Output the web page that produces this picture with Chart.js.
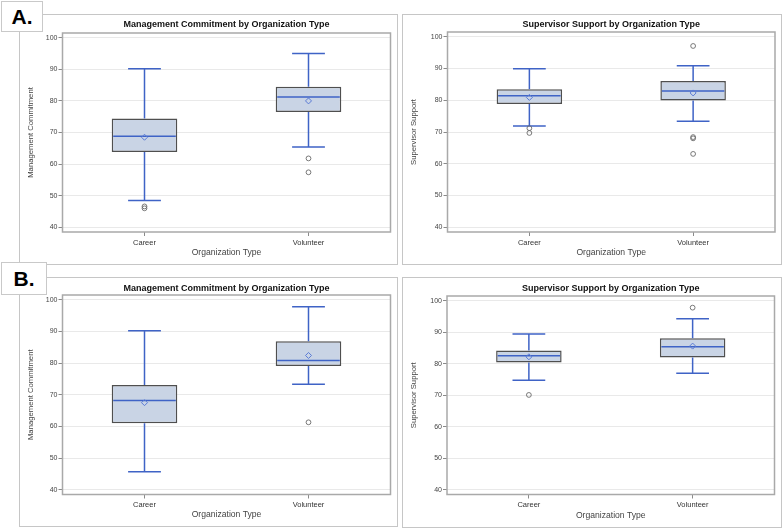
<!DOCTYPE html>
<html>
<head>
<meta charset="utf-8">
<script src="https://cdn.jsdelivr.net/npm/chart.js@4.4.1/dist/chart.umd.min.js"></script>
<style>
  html, body { margin: 0; padding: 0; background: #fff; }
  #page { position: relative; width: 783px; height: 528px; overflow: hidden; font-family: "Liberation Sans", Arial, sans-serif; }
  .frame { position: absolute; border: 1.5px solid #c6c6c6; box-sizing: border-box; background: #fff; }
  .frame canvas { position: absolute; left: 0; top: 0; }
  .tag { position: absolute; border: 1.5px solid #c9c9c9; background: #fff; box-sizing: border-box;
         font-weight: bold; font-size: 21px; color: #000; display: flex; align-items: center; justify-content: center; }
</style>
</head>
<body>
<div id="page">
  <div class="frame" style="left:19px;top:14px;width:379px;height:251px"><canvas id="mcA"></canvas></div>
  <div class="frame" style="left:402px;top:14px;width:380px;height:251px"><canvas id="ssA"></canvas></div>
  <div class="frame" style="left:19px;top:277px;width:379px;height:250px"><canvas id="mcB"></canvas></div>
  <div class="frame" style="left:402px;top:277px;width:380px;height:251px"><canvas id="ssB"></canvas></div>
  <div class="tag" style="left:1px;top:1px;width:42px;height:31px">A.</div>
  <div class="tag" style="left:1px;top:262px;width:46px;height:33px">B.</div>
</div>
<script>
const groups = ['Career', 'Volunteer'];
const yTicks = [40, 50, 60, 70, 80, 90, 100];

// A. Management Commitment
const mcA_low = [48.5, 65.4];
const mcA_q1 = [63.8, 76.5];
const mcA_med = [68.8, 81.2];
const mcA_q3 = [74.4, 84.5];
const mcA_high = [90.2, 95.0];
const mcA_mean = [68.5, 80.0];
const mcA_out = [[46.0, 46.6], [61.8, 57.4]];

// A. Supervisor Support
const ssA_low = [71.9, 73.4];
const ssA_q1 = [78.8, 79.9];
const ssA_med = [81.4, 82.9];
const ssA_q3 = [83.5, 86.1];
const ssA_high = [89.9, 90.9];
const ssA_mean = [80.9, 82.3];
const ssA_out = [[71.2, 69.7], [97.1, 68.0, 68.4, 63.1]];

// B. Management Commitment
const mcB_low = [45.7, 73.3];
const mcB_q1 = [61.0, 79.1];
const mcB_med = [68.2, 80.8];
const mcB_q3 = [73.1, 86.9];
const mcB_high = [90.2, 97.8];
const mcB_mean = [67.5, 82.4];
const mcB_out = [[], [61.3]];

// B. Supervisor Support
const ssB_low = [74.8, 77.0];
const ssB_q1 = [80.4, 82.0];
const ssB_med = [82.5, 85.4];
const ssB_q3 = [84.2, 88.1];
const ssB_high = [89.4, 94.3];
const ssB_mean = [82.2, 85.6];
const ssB_out = [[70.1], [97.8]];

Chart.defaults.font.family = '"Liberation Sans", Arial, sans-serif';
Chart.defaults.color = '#444';

const blue = '#3f63c6';

const boxPlugin = (low, med, high, q1, q3) => ({
  id: 'boxExtras',
  afterDatasetDraw(chart, args) {
    if (args.index !== 0) return;
    let ctx = chart.ctx;
    let y = chart.scales.y;
    ctx.save();
    ctx.strokeStyle = blue;
    ctx.lineWidth = 1.5;
    args.meta.data.forEach((bar, i) => {
      let x = bar.x, w = bar.width;
      ctx.beginPath();
      ctx.moveTo(x, y.getPixelForValue(q3[i]));
      ctx.lineTo(x, y.getPixelForValue(high[i]));
      ctx.moveTo(x, y.getPixelForValue(q1[i]));
      ctx.lineTo(x, y.getPixelForValue(low[i]));
      ctx.moveTo(x - w / 4, y.getPixelForValue(high[i]));
      ctx.lineTo(x + w / 4, y.getPixelForValue(high[i]));
      ctx.moveTo(x - w / 4, y.getPixelForValue(low[i]));
      ctx.lineTo(x + w / 4, y.getPixelForValue(low[i]));
      ctx.moveTo(x - w / 2 + 1.5, y.getPixelForValue(med[i]));
      ctx.lineTo(x + w / 2 - 1.5, y.getPixelForValue(med[i]));
      ctx.stroke();
    });
    ctx.restore();
  },
  afterDraw(chart) {
    let a = chart.chartArea;
    let ctx = chart.ctx;
    ctx.save();
    ctx.strokeStyle = '#a9a9a9';
    ctx.lineWidth = 1.5;
    ctx.strokeRect(a.left, a.top, a.right - a.left, a.bottom - a.top);
    ctx.restore();
  }
});

const renderPanel = (id, title, yTitle, box, layout) => {
  let [low, q1, med, q3, high, mean, out] = box;
  let canvas = document.getElementById(id);
  canvas.width = layout.w;
  canvas.height = layout.h;
  let outPoints = [];
  out.forEach((vals, i) => vals.forEach(v => outPoints.push({x: groups[i], y: v})));
  new Chart(canvas, {
    type: 'bar',
    data: {
      labels: groups,
      datasets: [{
        data: groups.map((g, i) => [q1[i], q3[i]]),
        backgroundColor: '#c9d4e5',
        borderColor: '#4f4f4f',
        borderWidth: 1.5,
        borderSkipped: false,
        barPercentage: 0.4,
        categoryPercentage: 1,
        order: 2
      }, {
        type: 'scatter',
        data: groups.map((g, i) => ({x: g, y: mean[i]})),
        pointStyle: 'rectRot',
        radius: 3,
        borderWidth: 1,
        borderColor: '#5a7bd6',
        backgroundColor: 'rgba(0,0,0,0)',
        order: 1
      }, {
        type: 'scatter',
        data: outPoints,
        pointStyle: 'circle',
        radius: 2.4,
        borderWidth: 0.9,
        borderColor: '#6a6a6a',
        backgroundColor: 'rgba(0,0,0,0)',
        order: 0
      }]
    },
    options: {
      responsive: false,
      animation: false,
      layout: { padding: { left: 0, right: layout.right, top: 0, bottom: 0 } },
      plugins: {
        legend: { display: false },
        tooltip: { enabled: false },
        title: {
          display: true,
          fullSize: false,
          text: title,
          color: '#111',
          font: { size: 9, weight: 'bold' },
          padding: { top: layout.titleTop, bottom: layout.top - layout.titleTop - 10.8 }
        }
      },
      scales: {
        x: {
          offset: true,
          grid: { offset: false, drawOnChartArea: false, tickLength: 4, tickColor: '#8a8a8a' },
          border: { display: false },
          ticks: { font: { size: 7.5 }, color: '#333', padding: 2 },
          title: { display: true, text: 'Organization Type', font: { size: 8.6 }, color: '#444', padding: { top: 0, bottom: 5 } },
          afterFit: (axis) => { axis.height = layout.bottom; }
        },
        y: {
          min: 38.5,
          max: 101.5,
          afterBuildTicks: (axis) => { axis.ticks = yTicks.map(v => ({value: v})); },
          grid: { color: '#e9e9e9', tickLength: 4, tickColor: '#8a8a8a' },
          border: { display: false },
          ticks: { font: { size: 7 }, color: '#444', padding: 1 },
          title: { display: true, text: yTitle, font: { size: 7.7 }, color: '#444', padding: { top: 6.5, bottom: 0 } },
          afterFit: (axis) => { axis.width = layout.left; }
        }
      }
    },
    plugins: [boxPlugin(low, med, high, q1, q3)]
  });
};

renderPanel('mcA', 'Management Commitment by Organization Type', 'Management Commitment',
  [mcA_low, mcA_q1, mcA_med, mcA_q3, mcA_high, mcA_mean, mcA_out],
  { w: 376, h: 248, left: 42.5, right: 5.5, top: 18, bottom: 31, titleTop: 4.5 });
renderPanel('ssA', 'Supervisor Support by Organization Type', 'Supervisor Support',
  [ssA_low, ssA_q1, ssA_med, ssA_q3, ssA_high, ssA_mean, ssA_out],
  { w: 377, h: 248, left: 44.5, right: 5, top: 17, bottom: 31, titleTop: 4.5 });
renderPanel('mcB', 'Management Commitment by Organization Type', 'Management Commitment',
  [mcB_low, mcB_q1, mcB_med, mcB_q3, mcB_high, mcB_mean, mcB_out],
  { w: 376, h: 247, left: 42.5, right: 5.5, top: 17, bottom: 30.5, titleTop: 5.5 });
renderPanel('ssB', 'Supervisor Support by Organization Type', 'Supervisor Support',
  [ssB_low, ssB_q1, ssB_med, ssB_q3, ssB_high, ssB_mean, ssB_out],
  { w: 377, h: 248, left: 44, right: 5.5, top: 18, bottom: 31.5, titleTop: 5 });
</script>
</body>
</html>
